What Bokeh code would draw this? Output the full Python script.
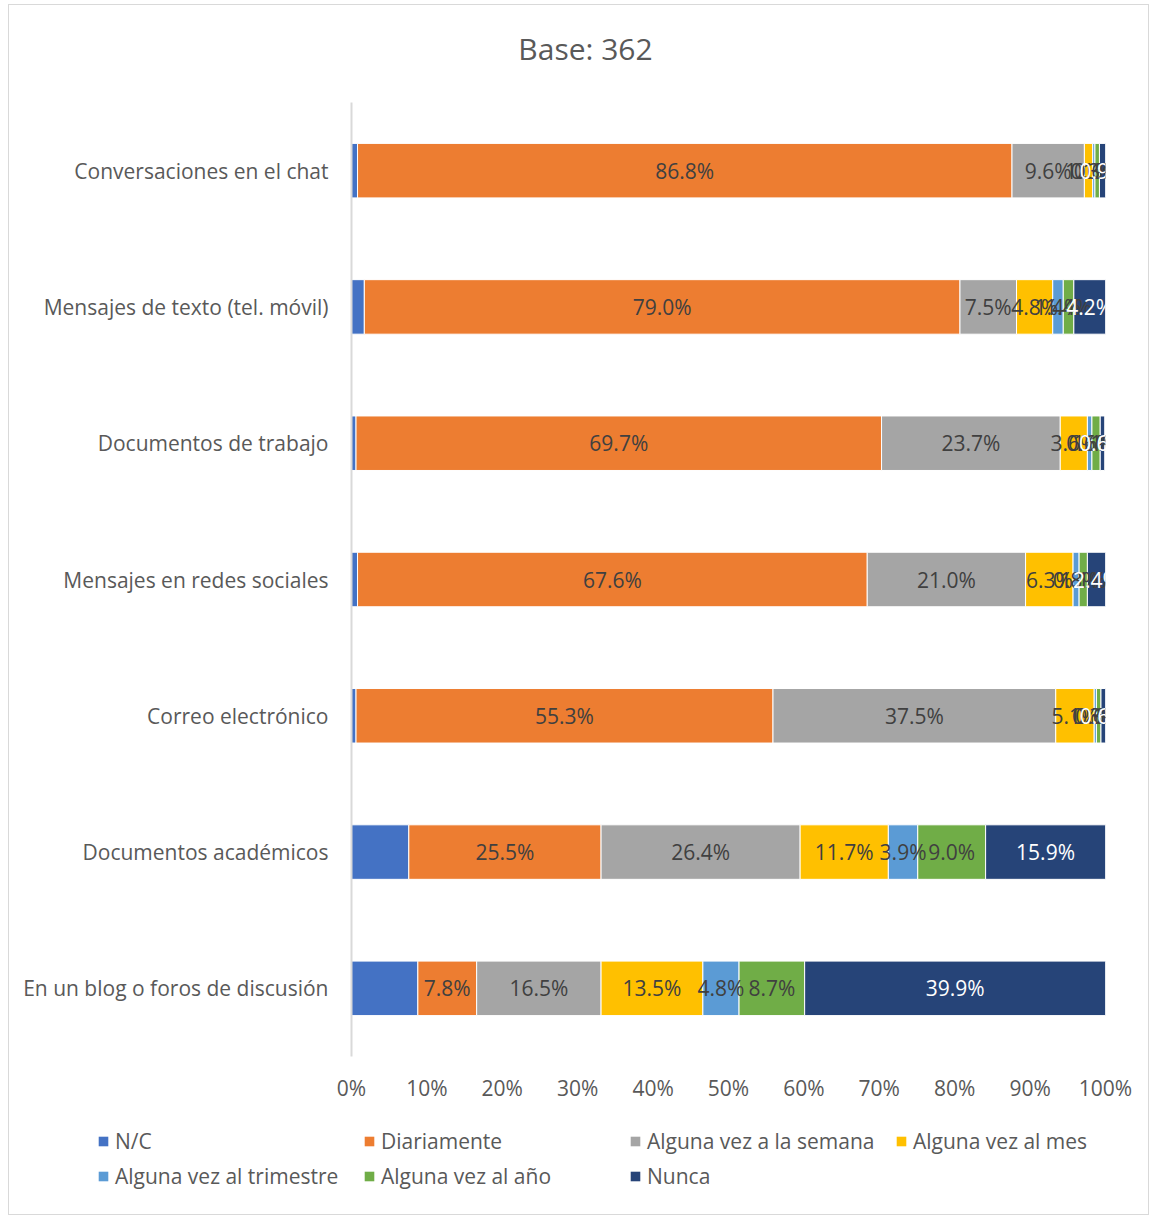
import numpy as np
from bokeh.plotting import figure
from bokeh.models import (ColumnDataSource, FactorRange, Range1d, FixedTicker,
                          PrintfTickFormatter, Legend, LegendItem, Label)
from bokeh.core.properties import value
from bokeh.embed import file_html
from bokeh.resources import INLINE

title_text = "Base: 362"
categories = ["Conversaciones en el chat", "Mensajes de texto (tel. móvil)",
              "Documentos de trabajo", "Mensajes en redes sociales",
              "Correo electrónico", "Documentos académicos",
              "En un blog o foros de discusión"]
series = ["N/C", "Diariamente", "Alguna vez a la semana", "Alguna vez al mes",
          "Alguna vez al trimestre", "Alguna vez al año", "Nunca"]
nc = [0.8, 1.7, 0.6, 0.8, 0.6, 7.6, 8.8]
diariamente = [86.8, 79.0, 69.7, 67.6, 55.3, 25.5, 7.8]
semana = [9.6, 7.5, 23.7, 21.0, 37.5, 26.4, 16.5]
mes = [1.1, 4.8, 3.6, 6.3, 5.1, 11.7, 13.5]
trimestre = [0.3, 1.4, 0.6, 0.8, 0.3, 3.9, 4.8]
anio = [0.6, 1.4, 1.1, 1.1, 0.6, 9.0, 8.7]
nunca = [0.9, 4.2, 0.6, 2.4, 0.6, 15.9, 39.9]
x_ticks = [0, 10, 20, 30, 40, 50, 60, 70, 80, 90, 100]

colors = ["#4472C4", "#ED7D31", "#A5A5A5", "#FFC000", "#5B9BD5", "#70AD47", "#264478"]
label_colors = [None, "#404040", "#404040", "#404040", "#404040", "#404040", "#FFFFFF"]
FONT = "Open Sans"
TXT = "#595959"
FS = "21px"
BORDER = "1px solid #D9D9D9"
W = 1141

keys = ["s%d" % i for i in range(len(series))]
vals = [nc, diariamente, semana, mes, trimestre, anio, nunca]
data = {"cat": categories}
for k, v in zip(keys, vals):
    data[k] = v
src = ColumnDataSource(data)


def blank(fig):
    fig.axis.visible = False
    fig.xgrid.grid_line_color = None
    fig.ygrid.grid_line_color = None
    fig.outline_line_color = None


# ---------------- title strip ----------------
H0 = 98
p0 = figure(width=W, height=H0, output_backend="svg", toolbar_location=None,
            x_range=Range1d(0, W), y_range=Range1d(0, H0),
            min_border_left=0, min_border_right=0, min_border_top=0, min_border_bottom=0)
blank(p0)
p0.add_layout(Label(x=576, y=H0 - 43, text=title_text, text_align="center",
                    text_baseline="middle", text_font=FONT, text_font_size="30px",
                    text_color=TXT))
p0.styles = {"border": BORDER, "border-bottom": "none",
             "margin-left": "8px", "margin-top": "4px"}

# ---------------- main chart ----------------
p = figure(width=W, height=1012, output_backend="svg", toolbar_location=None,
           y_range=FactorRange(*list(reversed(categories))),
           x_range=Range1d(0, 100),
           min_border_left=342, min_border_right=45,
           min_border_top=0, min_border_bottom=58)

p.hbar_stack(keys, y="cat", height=0.4, color=colors, source=src,
             line_color="white", line_width=1)

arr = np.array(vals)
cum = np.cumsum(arr, axis=0)
lx, ly, lt, lc = [], [], [], []
for i in range(1, len(series)):
    for j, c in enumerate(categories):
        left = cum[i - 1, j]
        lx.append(left + arr[i, j] / 2)
        ly.append(c)
        lt.append("%.1f%%" % arr[i, j])
        lc.append(label_colors[i])
lsrc = ColumnDataSource(dict(x=lx, y=ly, t=lt, c=lc))
p.text(x="x", y="y", text="t", source=lsrc, text_color="c",
       text_align="center", text_baseline="middle",
       text_font=value(FONT), text_font_size=FS)

p.xaxis.ticker = FixedTicker(ticks=x_ticks)
p.xaxis.formatter = PrintfTickFormatter(format="%d%%")
p.xaxis.axis_line_color = None
p.xaxis.major_tick_line_color = None
p.xaxis.minor_tick_line_color = None
p.xaxis.major_label_text_font = FONT
p.xaxis.major_label_text_font_size = FS
p.xaxis.major_label_text_color = TXT
p.xaxis.major_label_standoff = 11

p.yaxis.axis_line_color = "#D9D9D9"
p.yaxis.axis_line_width = 2
p.yaxis.major_tick_line_color = None
p.yaxis.minor_tick_line_color = None
p.yaxis.major_label_text_font = FONT
p.yaxis.major_label_text_font_size = FS
p.yaxis.major_label_text_color = TXT
p.yaxis.major_label_standoff = 17

p.xgrid.grid_line_color = None
p.ygrid.grid_line_color = None
p.outline_line_color = None
p.y_range.range_padding = 0
p.y_range.factor_padding = 0
p.styles = {"border-left": BORDER, "border-right": BORDER, "margin-left": "8px"}

# ---------------- legend strip ----------------
p2 = figure(width=W, height=101, output_backend="svg", toolbar_location=None,
            y_range=FactorRange(*list(reversed(categories))),
            x_range=Range1d(200, 300),
            min_border_left=0, min_border_right=0, min_border_top=0, min_border_bottom=0)
lrs = p2.hbar_stack(keys, y="cat", height=0.4, color=colors, source=src, line_color=None)
for r in lrs:
    r.visible = False
blank(p2)

legend = Legend(items=[LegendItem(label=s, renderers=[r]) for s, r in zip(series, lrs)],
                location=(88, 25), orientation="horizontal", ncols=4,
                glyph_width=12, glyph_height=12, label_standoff=6, label_width=241,
                label_height=20, spacing=7, padding=0, margin=0,
                border_line_color=None, background_fill_alpha=0,
                label_text_font=FONT, label_text_font_size=FS,
                label_text_color=TXT)
p2.add_layout(legend, "center")
p2.styles = {"border": BORDER, "border-top": "none", "margin-left": "8px"}

open("out.html", "w").write(file_html([p0, p, p2], INLINE))
